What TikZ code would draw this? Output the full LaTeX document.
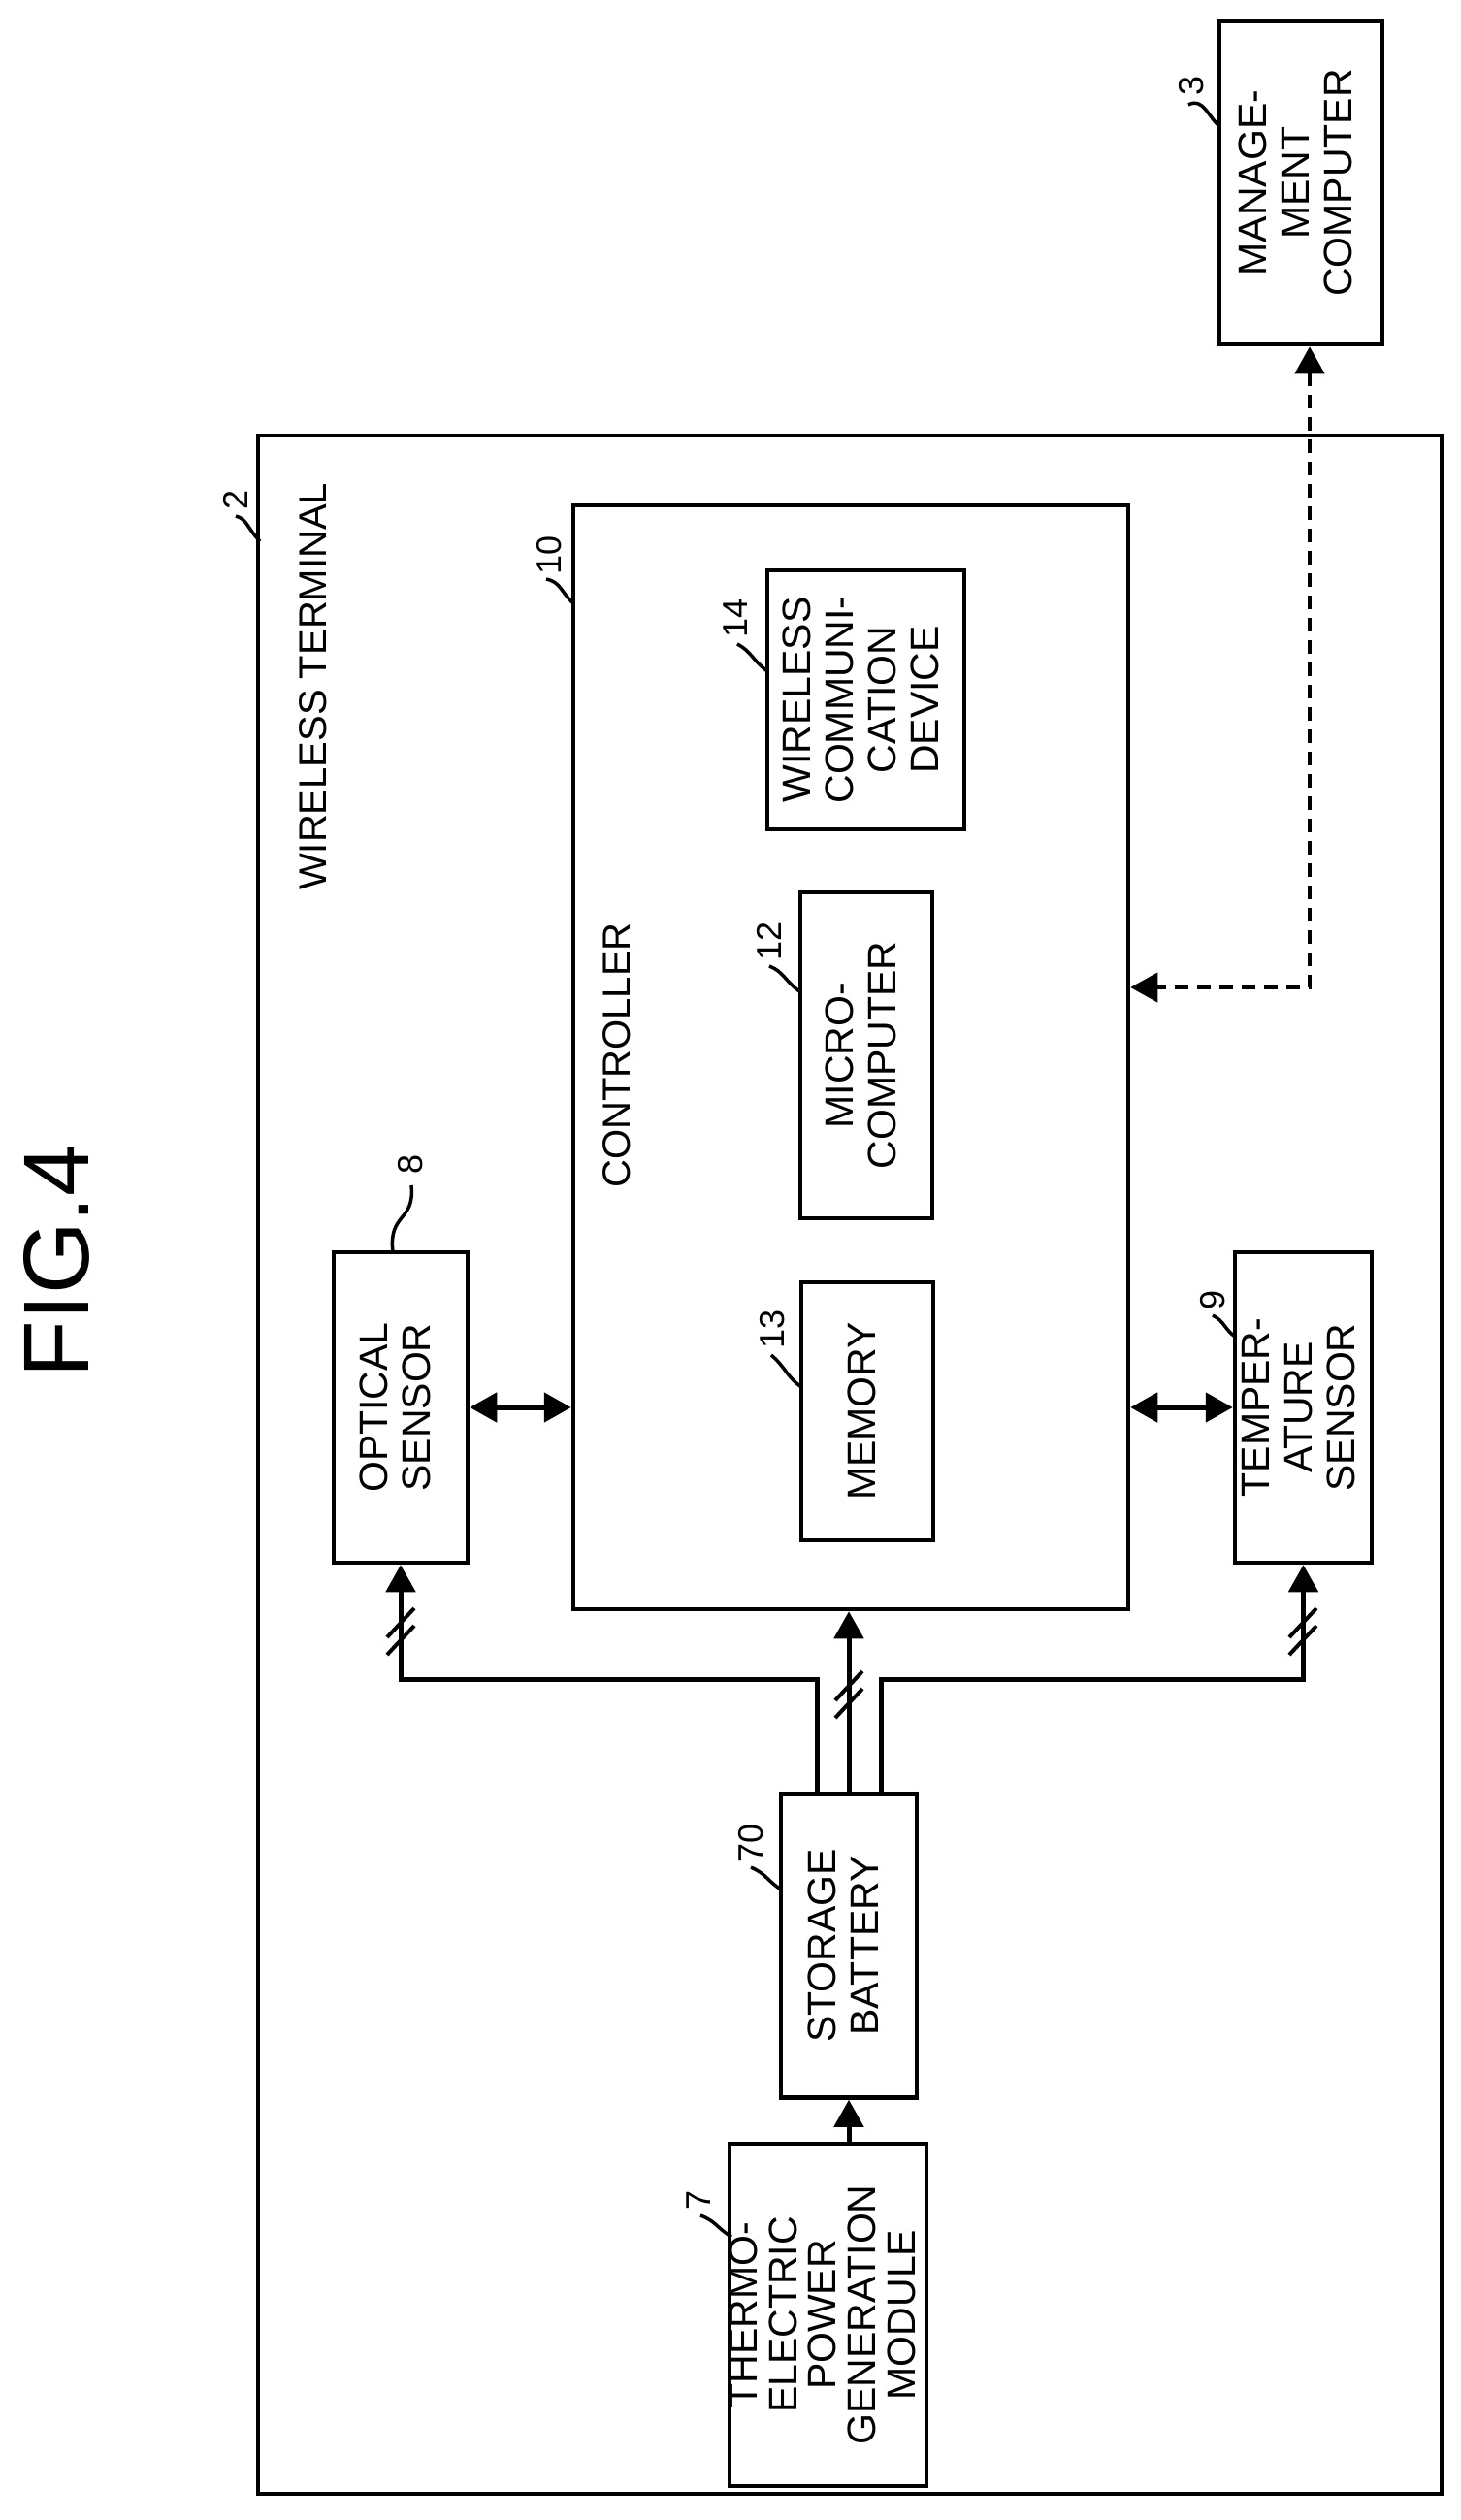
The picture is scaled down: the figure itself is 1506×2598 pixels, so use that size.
\documentclass[tikz,border=0pt]{standalone}
\usepackage{fontspec}
\setmainfont{Liberation Sans}
\usetikzlibrary{arrows.meta}
\newcommand\rt[1]{\rotatebox{90}{\begin{tabular}{@{}c@{}}#1\end{tabular}}}
\begin{document}
\begin{tikzpicture}[x=1pt,y=-1pt,
  box/.style={draw,line width=4.5pt,inner sep=0pt,font=\fontsize{41}{44}\selectfont},
  num/.style={inner sep=0pt,font=\fontsize{36}{36}\selectfont,rotate=90},
  sq/.style={line width=3.5pt},
  ln/.style={line width=5pt},
  tip/.style={-{Triangle[length=28pt,width=30pt]}},
  dtip/.style={{Triangle[length=28pt,width=30pt]}-{Triangle[length=28pt,width=30pt]}},
  sl/.style={line width=4pt}]
\useasboundingbox (0,0) rectangle (1506,2598);
\node[rotate=90,inner sep=0pt,font=\fontsize{96}{96}\selectfont] (fig) at (58,1300) {FIG.4};
\node[box,minimum width=1220pt,minimum height=2122pt] (outer) at (876,1510) {};
\node[rotate=90,anchor=west,inner sep=0pt,font=\fontsize{40}{40}\selectfont] (wt) at (323,918) {WIRELESS TERMINAL};
\node[box,minimum width=168pt,minimum height=333pt] (mg) at (1341,188.5) {\rt{MANAGE-\\MENT\\COMPUTER}};
\node[box,minimum width=572pt,minimum height=1138pt] (ctl) at (877,1090) {};
\node[rotate=90,inner sep=0pt,font=\fontsize{40}{40}\selectfont] (ctltxt) at (636,1088) {CONTROLLER};
\node[box,minimum width=138pt,minimum height=320pt] (opt) at (413,1451) {\rt{OPTICAL\\SENSOR}};
\node[box,minimum width=141pt,minimum height=320pt] (tmp) at (1343.5,1451) {\rt{TEMPER-\\ATURE\\SENSOR}};
\node[box,minimum width=136pt,minimum height=266pt] (mem) at (894,1455) {\rt{MEMORY}};
\node[box,minimum width=136pt,minimum height=336pt] (mic) at (893,1088) {\rt{MICRO-\\COMPUTER}};
\node[box,minimum width=203pt,minimum height=267pt] (wl) at (892.5,721.5) {\rt{WIRELESS\\COMMUNI-\\CATION\\DEVICE}};
\node[box,minimum width=140pt,minimum height=313pt] (bat) at (875,2006) {\rt{STORAGE\\BATTERY}};
\node[box,minimum width=199pt,minimum height=353pt,font=\fontsize{41}{40}\selectfont] (th) at (853.5,2386.5) {\rt{THERMO-\\ELECTRIC\\POWER\\GENERATION\\MODULE}};
% reference numerals
\node[num] (n2) at (243,515) {2};
\draw[sq] (268,558) .. controls (255,545) and (255,535) .. (243,532);
\node[num] (n10) at (566,572) {10};
\draw[sq] (591,622) .. controls (578,610) and (578,600) .. (563,597);
\node[num] (n8) at (423,1200) {8};
\draw[sq] (405,1291) .. controls (400,1250) and (428,1260) .. (424,1222);
\node[num] (n3) at (1228,88) {3};
\draw[sq] (1257,130) .. controls (1245,120) and (1240,100) .. (1225,108);
\node[num] (n14) at (758,637) {14};
\draw[sq] (791,692) .. controls (775,680) and (775,672) .. (760,664);
\node[num] (n12) at (793,970) {12};
\draw[sq] (824,1022) .. controls (808,1010) and (808,1002) .. (793,996);
\node[num] (n13) at (796,1370) {13};
\draw[sq] (826,1430) .. controls (810,1418) and (810,1410) .. (795,1397);
\node[num] (n9) at (1250,1340) {9};
\draw[sq] (1273,1378) .. controls (1262,1370) and (1262,1362) .. (1250,1356);
\node[num] (n70) at (774,1900) {70};
\draw[sq] (805,1948) .. controls (790,1938) and (790,1932) .. (774,1925);
\node[num] (n7) at (720,2268) {7};
\draw[sq] (754,2306) .. controls (738,2296) and (738,2290) .. (722,2284);
% connectors
\coordinate (jl) at (842,1731);
\coordinate (jr) at (908,1731);
\draw[ln,tip] (842,1850) -- (jl) -| (opt.south);
\draw[ln,tip] (875,1850) -- (ctl.south -| 875,0);
\draw[ln,tip] (908,1850) -- (jr) -| (tmp.south);
\draw[ln,tip] (th.north -| bat.south) -- (bat.south);
\draw[ln,dtip] (opt.east) -- (opt.east -| ctl.west);
\draw[ln,dtip] (ctl.east |- tmp.west) -- (tmp.west);
\coordinate (dc) at (1350,1018);
\draw[line width=4pt,dash pattern=on 14pt off 9pt,dtip] (mg.south -| dc) -- (dc) -- (ctl.east |- dc);
% slash marks
\foreach \x/\y in {413/1680,875/1745,1343/1680}{
  \draw[sl] (\x-14,\y+8) -- (\x+14,\y-22);
  \draw[sl] (\x-14,\y+26) -- (\x+14,\y-4);
}
\end{tikzpicture}
\end{document}
